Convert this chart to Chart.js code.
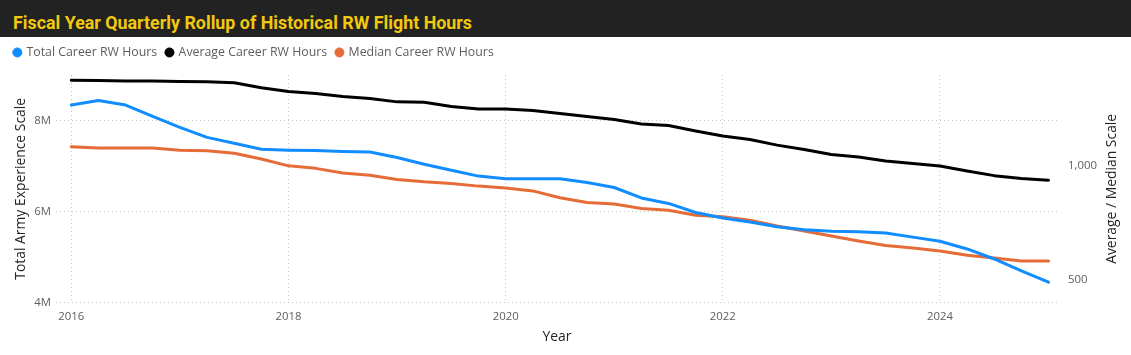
<!DOCTYPE html>
<html>
<head>
<meta charset="utf-8">
<script src="https://cdn.jsdelivr.net/npm/chart.js@4.4.1/dist/chart.umd.min.js"></script>
<style>
  html, body { margin: 0; padding: 0; background: #ffffff; width: 1131px; height: 355px; overflow: hidden; }
  #bar { position: absolute; left: 0; top: 0; width: 1131px; height: 37px; background: #222222; overflow: hidden; }
  #title { position: absolute; left: 12.5px; top: 12.6px; line-height: 1; white-space: nowrap;
           font-family: Roboto, 'Noto Sans', sans-serif; font-weight: 700; font-size: 19px; color: #F2C811;
           transform-origin: 0 0; }
  #wrap { position: absolute; left: 0; top: 37px; width: 1131px; height: 318px; }
</style>
</head>
<body>
<div id="bar"><div id="title">Fiscal Year Quarterly Rollup of Historical RW Flight Hours</div></div>
<div id="wrap"><canvas id="c" width="1131" height="318"></canvas></div>
<script>
// ---------------- data ----------------
const quarterLabels = [
  2016, 2016.25, 2016.5, 2016.75,
  2017, 2017.25, 2017.5, 2017.75,
  2018, 2018.25, 2018.5, 2018.75,
  2019, 2019.25, 2019.5, 2019.75,
  2020, 2020.25, 2020.5, 2020.75,
  2021, 2021.25, 2021.5, 2021.75,
  2022, 2022.25, 2022.5, 2022.75,
  2023, 2023.25, 2023.5, 2023.75,
  2024, 2024.25, 2024.5, 2024.75,
  2025
];
const totalCareerHours = [
  8340000, 8440000, 8340000, 8090000,
  7850000, 7630000, 7500000, 7370000,
  7350000, 7340000, 7320000, 7310000,
  7190000, 7040000, 6910000, 6780000,
  6720000, 6720000, 6720000, 6640000,
  6530000, 6300000, 6180000, 5980000,
  5860000, 5770000, 5670000, 5600000,
  5570000, 5560000, 5530000, 5440000,
  5350000, 5180000, 4960000, 4700000,
  4450000
];
const averageCareerHours = [
  1377, 1376, 1374, 1374,
  1372, 1370, 1366, 1344,
  1328, 1319, 1306, 1297,
  1282, 1280, 1262, 1251,
  1251, 1244, 1231, 1218,
  1205, 1185, 1178, 1154,
  1132, 1117, 1092, 1073,
  1051, 1040, 1022, 1011,
  1000, 978, 958, 945,
  938
];
const medianCareerHours = [
  1085, 1079, 1079, 1079,
  1070, 1067, 1056, 1031,
  1001, 990, 970, 960,
  941, 931, 924, 912,
  904, 891, 861, 840,
  833, 814, 806, 784,
  777, 762, 737, 715,
  693, 671, 651, 640,
  627, 608, 596, 583,
  583
];
const seriesNames = ['Total Career RW Hours', 'Average Career RW Hours', 'Median Career RW Hours'];
const xTickYears = [2016, 2018, 2020, 2022, 2024];
const leftTicks = [4000000, 6000000, 8000000];
const rightTicks = [500, 1000];
const xAxisTitle = 'Year';
const leftAxisTitle = 'Total Army Experience Scale';
const rightAxisTitle = 'Average / Median Scale';

// ---------------- styling helpers ----------------
const FAMILY = "'Open Sans', 'Noto Sans', sans-serif";
function fitPx(text, target, weight) {
  const c = document.createElement('canvas').getContext('2d');
  c.font = (weight || 'normal') + ' 100px ' + FAMILY;
  return 100 * target / c.measureText(text).width;
}
const legendPx = fitPx(seriesNames[0], 130.7);
const tickPx = fitPx('2016', 26);
const axisTitlePx = fitPx(leftAxisTitle, 182);

// title width fit
(function () {
  const t = document.getElementById('title');
  const w = t.getBoundingClientRect().width;
  t.style.transform = 'scaleX(' + (459 / w) + ')';
})();

const TICK_COLOR = '#605E5C';
const TITLE_COLOR = '#252423';
const GRID_COLOR = '#C8C6C4';

const legendHeight = {
  id: 'legendHeight',
  afterInit(chart) {
    const lg = chart.legend;
    const orig = lg.fit;
    lg.fit = function () { orig.call(this); this.height = 38; };
  }
};
const rightTitle = {
  id: 'rightTitle',
  afterDraw(chart) {
    const ctx = chart.ctx, a = chart.chartArea;
    ctx.save();
    ctx.translate(1112, (a.top + a.bottom) / 2);
    ctx.rotate(-Math.PI / 2);
    ctx.font = 'normal ' + axisTitlePx + 'px ' + FAMILY;
    ctx.fillStyle = TITLE_COLOR;
    ctx.textAlign = 'center';
    ctx.textBaseline = 'middle';
    ctx.fillText(rightAxisTitle, 0, 0);
    ctx.restore();
  }
};

const toPoints = arr => arr.map((v, i) => ({ x: quarterLabels[i], y: v }));

new Chart(document.getElementById('c'), {
  type: 'line',
  data: {
    datasets: [
      { label: seriesNames[0], data: toPoints(totalCareerHours), yAxisID: 'y',
        borderColor: '#118DFF', backgroundColor: '#118DFF' },
      { label: seriesNames[1], data: toPoints(averageCareerHours), yAxisID: 'y1',
        borderColor: '#000000', backgroundColor: '#000000' },
      { label: seriesNames[2], data: toPoints(medianCareerHours), yAxisID: 'y1',
        borderColor: '#E66C37', backgroundColor: '#E66C37' }
    ]
  },
  options: {
    responsive: false,
    animation: false,
    devicePixelRatio: 1,
    layout: { padding: { left: 5, right: 0, top: 0, bottom: 0 } },
    elements: {
      line: { borderWidth: 3, tension: 0, borderJoinStyle: 'round', borderCapStyle: 'round' },
      point: { radius: 0, hoverRadius: 0 }
    },
    plugins: {
      tooltip: { enabled: false },
      legend: {
        display: true,
        position: 'top',
        align: 'start',
        labels: {
          usePointStyle: true,
          pointStyle: 'circle',
          boxWidth: 6,
          boxHeight: 6.4,
          padding: 9.3,
          color: TICK_COLOR,
          font: { family: FAMILY, size: legendPx }
        }
      }
    },
    scales: {
      x: {
        type: 'linear',
        min: 2015.859,
        max: 2025.087,
        afterBuildTicks: s => { s.ticks = xTickYears.map(v => ({ value: v })); },
        afterFit: s => { s.height = 52.3; },
        ticks: { color: TICK_COLOR, padding: 7, font: { family: FAMILY, size: tickPx },
                 callback: v => String(v), maxRotation: 0 },
        grid: { color: GRID_COLOR, drawTicks: false, lineWidth: 1 },
        border: { display: false, dash: [1, 3] },
        title: { display: true, text: xAxisTitle, color: TITLE_COLOR,
                 font: { family: FAMILY, size: axisTitlePx }, padding: { top: 0, bottom: 10 } }
      },
      y: {
        type: 'linear',
        position: 'left',
        min: 4000000,
        max: 9000000,
        afterBuildTicks: s => { s.ticks = leftTicks.map(v => ({ value: v })); },
        afterFit: s => { s.width = 51; },
        ticks: { color: TICK_COLOR, padding: 5, font: { family: FAMILY, size: tickPx },
                 callback: v => (v / 1000000) + 'M' },
        grid: { color: GRID_COLOR, drawTicks: false, lineWidth: 1 },
        border: { display: false, dash: [1, 3] },
        title: { display: true, text: leftAxisTitle, color: TITLE_COLOR,
                 font: { family: FAMILY, size: axisTitlePx }, padding: { top: 7.6, bottom: 0 } }
      },
      y1: {
        type: 'linear',
        position: 'right',
        min: 400,
        max: 1400,
        afterBuildTicks: s => { s.ticks = rightTicks.map(v => ({ value: v })); },
        afterFit: s => { s.width = 73; },
        ticks: { color: TICK_COLOR, padding: 10, font: { family: FAMILY, size: tickPx },
                 callback: v => v.toLocaleString('en-US') },
        grid: { display: false, drawTicks: false },
        border: { display: false }
      }
    }
  },
  plugins: [legendHeight, rightTitle]
});
</script>
</body>
</html>
